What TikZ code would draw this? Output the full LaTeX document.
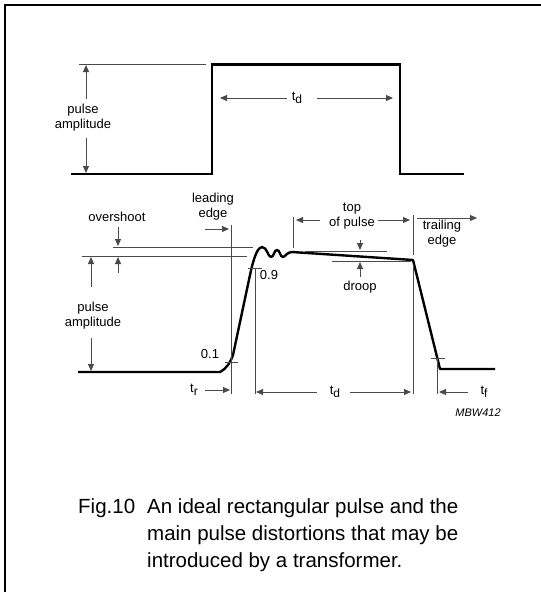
\documentclass[tikz,border=0pt]{standalone}
\usepackage{fontspec}
\setmainfont{Liberation Sans}
\usetikzlibrary{arrows.meta}
\definecolor{lineGray}{HTML}{4A4A4A}
\newcommand{\tsub}[1]{t\raisebox{-0.45ex}{\fontsize{12}{13}\selectfont #1}}

\begin{document}
\begin{tikzpicture}[x=1pt, y=-1pt, font=\fontsize{13}{15}\selectfont,
    thinline/.style={draw=lineGray, line width=0.9pt},
    dim/.style={thinline, -{Triangle[length=7pt, width=6pt]}},
    pulse/.style={draw=black, line width=2.4pt, line join=miter},
    lbl/.style={inner sep=0pt, align=center}]
    \useasboundingbox (0,0) rectangle (541,592);
    % frame
    \draw[line width=2.2pt] (5,592) -- (5,5) -- (541,5);

    % ideal pulse
    \draw[pulse] (71,174) -- (212,174) -- (212,64.5) -- (400,64.5) -- (400,174) -- (464,174);
    \draw[thinline] (79,64) -- (206,64);
    \node[lbl] (amptop) at (83,118) {pulse\\amplitude};
    \draw[dim] (86,99) -- (86,65);
    \draw[dim] (86,138) -- (86,173);
    \node[lbl] (tdtop) at (297,98) {\tsub{d}};
    \draw[dim] (287,98) -- (220,98);
    \draw[dim] (317,98) -- (393,98);

    % distorted pulse
    \draw[pulse, line join=round] (78,372) -- (220,372)
        .. controls (227,368) and (230,363) .. (233,355) -- (250,275)
        .. controls (254,256) and (258,247) .. (262,247)
        .. controls (267,247) and (268,257) .. (271,257)
        .. controls (274,257) and (274,250) .. (277,250)
        .. controls (280,250) and (280,257) .. (283,257)
        .. controls (285,257) and (287,252) .. (292,252)
        -- (413,260) -- (440,369) -- (495,369);

    % levels and ticks
    \draw[thinline] (231,225) -- (231,394);
    \draw[thinline] (255,268) -- (255,394);
    \draw[thinline] (225,362) -- (238,362);
    \draw[thinline] (248,268) -- (262,268);
    \node[lbl] (lvlten) at (210,354) {0.1};
    \node[lbl] (lvlninety) at (269,275) {0.9};

    % overshoot
    \draw[thinline] (113,247) -- (253,247);
    \draw[thinline] (82,256) -- (247,256);
    \node[lbl] (overshoot) at (117,217) {overshoot};
    \draw[dim] (118,227) -- (118,246);
    \draw[dim] (118,273) -- (118,257);

    % amplitude
    \node[lbl] (ampbot) at (93,316) {pulse\\amplitude};
    \draw[dim] (91,287) -- (91,257);
    \draw[dim] (91,338) -- (91,371);

    % leading edge
    \node[lbl] (leading) at (213,207) {leading\\edge};
    \draw[dim] (205,229) -- (229,229);

    % top of pulse
    \draw[thinline] (293,217) -- (293,248);
    \draw[thinline] (413,215) -- (413,255);
    \draw[thinline] (413,265) -- (413,394);
    \node[lbl] (toppulse) at (352,216) {top\\of pulse};
    \draw[dim] (320,220) -- (296,220);
    \draw[dim] (378,220) -- (410,220);

    % trailing edge
    \node[lbl] (trailing) at (442,234) {trailing\\edge};
    \draw[dim] (417,218) -- (477,218);

    % droop
    \draw[thinline] (305,251) -- (387,251);
    \draw[thinline] (332,261) -- (411,261);
    \node[lbl] (droop) at (360,287) {droop};
    \draw[dim] (360,240) -- (360,250);
    \draw[dim] (360,277) -- (360,262);

    % times
    \node[lbl] (tr) at (194,390) {\tsub{r}};
    \draw[dim] (205,390) -- (230,390);
    \node[lbl] (tdbot) at (335,392) {\tsub{d}};
    \draw[dim] (317,392) -- (256,392);
    \draw[dim] (350,392) -- (411,392);
    \draw[thinline] (437,358) -- (437,394);
    \draw[thinline] (431,358) -- (445,358);
    \node[lbl] (tf) at (484,392) {\tsub{f}};
    \draw[dim] (468,392) -- (439,392);

    \node[lbl, font=\fontsize{11}{13}\selectfont\itshape] (code) at (478,413) {MBW412};

    % caption
    \begin{scope}[every node/.style={inner sep=0pt, anchor=base west, font=\fontsize{20.5}{27}\selectfont}]
      \node (fig) at (78,513) {Fig.10};
      \node (capa) at (147,513) {An ideal rectangular pulse and the};
      \node (capb) at (147,540) {main pulse distortions that may be};
      \node (capc) at (147,567) {introduced by a transformer.};
    \end{scope}
\end{tikzpicture}
\end{document}
